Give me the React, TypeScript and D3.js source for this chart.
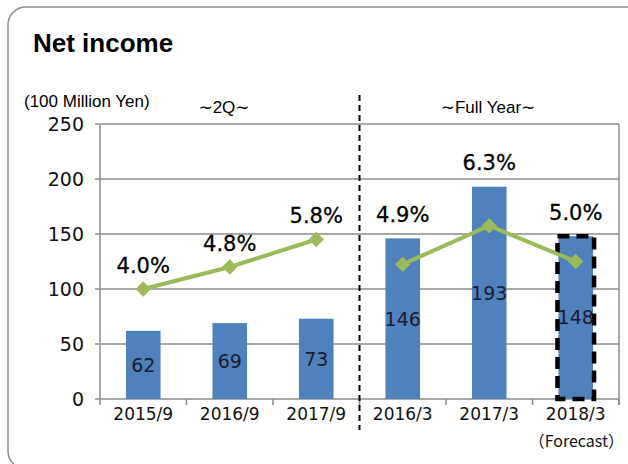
import React from 'react'
import * as d3 from 'd3'

// values
const categories = ['2015/9', '2016/9', '2017/9', '2016/3', '2017/3', '2018/3']
const netIncome = [62, 69, 73, 146, 193, 148]
const margins = [4.0, 4.8, 5.8, 4.9, 6.3, 5.0]
const groups = ['∼2Q∼', '∼Full Year∼']
const yTicks = [0, 50, 100, 150, 200, 250]
const forecastIndex = 5

const W = 628
const H = 464
const plot = {left: 100, right: 619, top: 124, bottom: 399}

const sans = '"Liberation Sans", Arial, "DejaVu Sans", sans-serif'
const wide = '"DejaVu Sans", sans-serif'

const App = () => {
  const x = d3.scaleBand().domain(categories).range([plot.left, plot.right]).paddingInner(0.6).paddingOuter(0.3)
  const xStep = x.step()
  const y = d3.scaleLinear().domain([0, 250]).range([plot.bottom, plot.top])
  // hidden secondary axis for the margin line
  const y2 = d3.scaleLinear().domain([0, 10]).range([plot.bottom, plot.top])

  const cx = (c: string) => (x(c) as number) + x.bandwidth() / 2
  const splitX = plot.left + 3 * xStep

  const line2Q = d3.line<number>().x((_, i) => cx(categories[i])).y(d => y2(d))
  const lineFY = d3.line<number>().x((_, i) => cx(categories[i + 3])).y(d => y2(d))

  const diamond = d3.symbol().type(d3.symbolDiamond2).size(150)

  return (
    <svg width={W} height={H} style={{position: 'absolute', left: 0, top: 0}} fontFamily={wide}>
      <rect x={0} y={0} width={W} height={H} fill="#fff" />
      <rect x={8} y={7} width={640} height={462} rx={18} fill="none" stroke="#8c8c8c" strokeWidth={1.5} />
      <text x={33} y={52} fontFamily={sans} fontWeight="bold" fontSize={26} fill="#000">Net income</text>

      <text x={24} y={107} fontFamily={sans} fontSize={17} fill="#000">(100 Million Yen)</text>
      <text x={224} y={113} textAnchor="middle" fontFamily={sans} fontSize={17} fill="#000">{groups[0]}</text>
      <text x={488} y={113} textAnchor="middle" fontFamily={sans} fontSize={17} fill="#000">{groups[1]}</text>

      {/* grid */}
      <g>
        {yTicks.map(t => (
          <g key={t}>
            <line x1={plot.left - 5} x2={plot.right} y1={y(t)} y2={y(t)} stroke="#8c8c8c" strokeWidth={1.5} />
            <text x={84} y={y(t)} dy="0.36em" textAnchor="end" fontSize={19} fill="#111">{t}</text>
          </g>
        ))}
        <line x1={plot.left} x2={plot.left} y1={plot.top} y2={plot.bottom} stroke="#8c8c8c" strokeWidth={1.5} />
        <line x1={plot.right} x2={plot.right} y1={plot.top} y2={plot.bottom + 6} stroke="#8c8c8c" strokeWidth={1.5} />
        {d3.range(7).map(i => (
          <line key={i} x1={plot.left + i * xStep} x2={plot.left + i * xStep} y1={plot.bottom} y2={plot.bottom + 6} stroke="#8c8c8c" strokeWidth={1.5} />
        ))}
      </g>

      {/* bars */}
      <g>
        {netIncome.map((v, i) => (
          <rect key={i} x={x(categories[i])} y={y(v)} width={x.bandwidth()} height={y(0) - y(v)} fill="#4f81bd" />
        ))}
        <rect x={(x(categories[forecastIndex]) as number) - 1} y={y(netIncome[forecastIndex])} width={x.bandwidth() + 2} height={y(0) - y(netIncome[forecastIndex])}
          fill="none" stroke="#000" strokeWidth={4.5} strokeDasharray="12 7" />
        {netIncome.map((v, i) => (
          <text key={i} x={cx(categories[i])} y={(y(v) + y(0)) / 2} dy="0.36em" textAnchor="middle" fontSize={19} fill="#1b1b2e">{v}</text>
        ))}
      </g>

      {/* margin line */}
      <g>
        <path d={line2Q(margins.slice(0, 3)) as string} fill="none" stroke="#9bbb59" strokeWidth={4} />
        <path d={lineFY(margins.slice(3)) as string} fill="none" stroke="#9bbb59" strokeWidth={4} />
        {margins.map((m, i) => (
          <path key={i} d={diamond() as string} transform={`translate(${cx(categories[i])},${y2(m)})`} fill="#9bbb59" />
        ))}
        {margins.map((m, i) => (
          <text key={i} x={cx(categories[i])} y={Math.min(y2(m), y(netIncome[i])) - 24} dy="0.36em" textAnchor="middle" fontSize={21}
            fill="#000" stroke="#000" strokeWidth={0.3}>{m.toFixed(1)}%</text>
        ))}
      </g>

      {/* x labels */}
      {categories.map(c => (
        <text key={c} x={cx(c)} y={414} dy="0.36em" textAnchor="middle" fontSize={17} fill="#111">{c}</text>
      ))}
      <text x={624} y={441} dy="0.36em" textAnchor="end" fontFamily='"Noto Sans CJK JP", sans-serif' fontSize={16} fill="#111">（Forecast）</text>

      {/* divider between 2Q and full-year */}
      <line x1={splitX} x2={splitX} y1={95} y2={430} stroke="#000" strokeWidth={2} strokeDasharray="6 4" />
    </svg>
  )
}

export default App
